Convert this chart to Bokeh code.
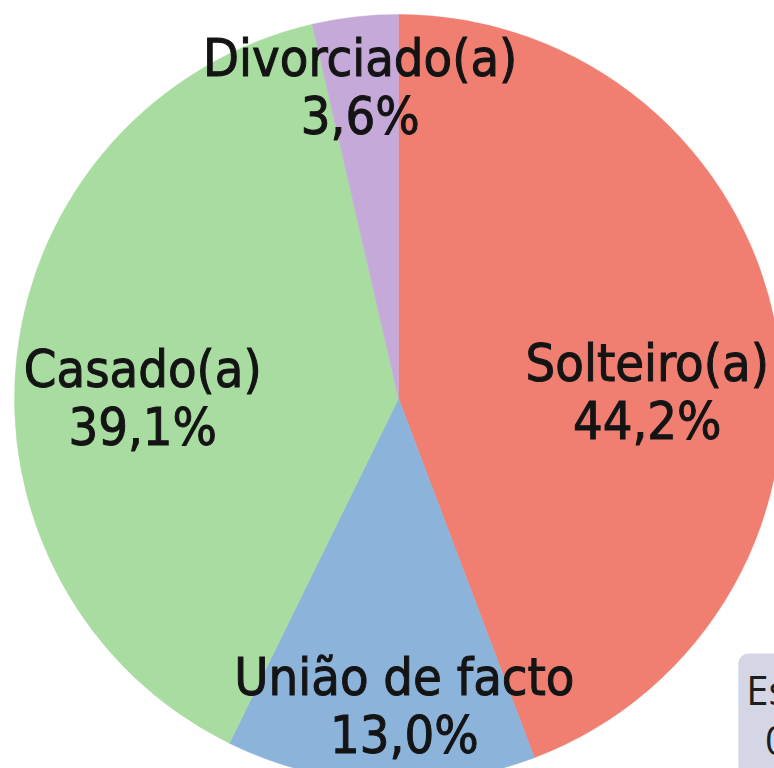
import math
from bokeh.plotting import figure
from bokeh.models import Range1d, Label, ColumnDataSource
from bokeh.core.properties import value
from bokeh.embed import file_html
from bokeh.resources import INLINE

# ---- data ----
categories = ["Solteiro(a)", "União de facto", "Casado(a)", "Divorciado(a)", "Estado"]
percent = [44.2, 13.0, 39.1, 3.6, 0.1]
colors = ["#F07F72", "#8CB3D9", "#A9DCA1", "#C5A9D9", "#D4D6E6"]

# ---- layout (reference pixel space) ----
W, H = 774, 768
CX, CY, R = 398, H - 398, 384
label_angle_deg = [88.6, 178.9, 270.2, 353.0]   # clockwise from top
label_rfrac = [0.648, 0.80, 0.666, 0.818]
LINE_GAP = 29
N_PIE = 4  # slices drawn in the pie; the last category is shown as a call-out

pie_vals = percent[:N_PIE]
total = sum(pie_vals)
starts, ends = [], []
cum = 0.0
for v in pie_vals:
    a0 = cum / total * 2 * math.pi
    cum += v
    a1 = cum / total * 2 * math.pi
    starts.append(math.pi / 2 - a1)
    ends.append(math.pi / 2 - a0)

pct_text = [f"{v:.1f}".replace(".", ",") + "%" for v in percent]

src = ColumnDataSource(dict(start=starts, end=ends, color=colors[:N_PIE], cat=categories[:N_PIE]))

p = figure(width=W, height=H, x_range=Range1d(0, W), y_range=Range1d(0, H),
           output_backend="svg", toolbar_location=None, min_border=0,
           x_axis_location=None, y_axis_location=None)
p.grid.visible = False
p.outline_line_color = None
p.background_fill_color = "white"
p.border_fill_color = "white"

p.wedge(x=CX, y=CY, radius=R, start_angle="start", end_angle="end",
        fill_color="color", line_color="color", line_width=0.5, source=src)

tx, ty, tt = [], [], []
for i in range(N_PIE):
    a = math.radians(label_angle_deg[i])
    bx = CX + label_rfrac[i] * R * math.sin(a)
    by = CY + label_rfrac[i] * R * math.cos(a)
    tx += [bx, bx]
    ty += [by + LINE_GAP, by - LINE_GAP]
    tt += [categories[i], pct_text[i]]

p.text(x=tx, y=ty, text=tt, text_align="center", text_baseline="middle",
       text_font=value("DejaVu Sans Condensed, sans-serif"), text_font_style="normal",
       text_font_size="52px", text_color="#141414", text_outline_color="#141414")

box = Label(x=809, y=H - 653, x_units="data", y_units="data",
            text=categories[4] + "\n" + pct_text[4],
            text_align="center", text_baseline="top",
            text_font="Open Sans", text_font_size="40px", text_color="#1e1e1e",
            text_line_height=0.92,
            background_fill_color="#D4D6E6", background_fill_alpha=1.0,
            border_radius=10, padding=8)
p.add_layout(box)

open("out.html", "w").write(file_html(p, INLINE))
